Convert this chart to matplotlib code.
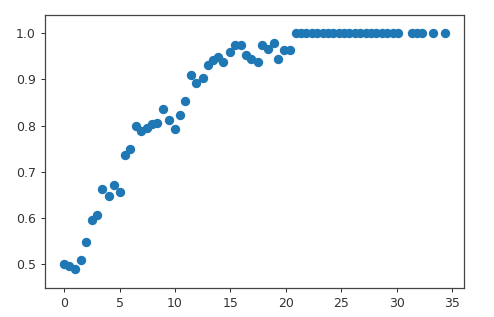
import matplotlib
matplotlib.use("Agg")
import matplotlib.pyplot as plt

x_rise = [0.0, 0.45, 0.97, 1.5, 2.02, 2.53, 3.01, 3.43, 4.03, 4.48, 5.02, 5.47, 5.93,
          6.47, 6.92, 7.48, 7.96, 8.41, 8.96, 9.44, 9.98, 10.43, 10.88, 11.40, 11.88,
          12.48, 12.96, 13.44, 13.92, 14.34, 14.94, 15.39, 15.93, 16.41, 16.84, 17.44,
          17.85, 18.40, 18.91, 19.33, 19.87, 20.38]
y_rise = [0.500, 0.495, 0.489, 0.509, 0.547, 0.596, 0.607, 0.662, 0.647, 0.672, 0.655,
          0.736, 0.750, 0.799, 0.788, 0.794, 0.804, 0.806, 0.836, 0.812, 0.793, 0.823,
          0.853, 0.910, 0.892, 0.904, 0.931, 0.942, 0.949, 0.938, 0.959, 0.975, 0.975,
          0.954, 0.944, 0.937, 0.975, 0.966, 0.978, 0.945, 0.964, 0.964]
x_plateau = [20.87, 21.36, 21.84, 22.33, 22.81, 23.30, 23.78, 24.27, 24.76, 25.24,
             25.73, 26.21, 26.70, 27.18, 27.67, 28.15, 28.64, 29.13, 29.61, 30.10,
             31.38, 31.83, 32.27, 33.27, 34.33]
y_plateau = [1.0] * len(x_plateau)

x = x_rise + x_plateau
y = y_rise + y_plateau

fig = plt.figure(figsize=(4.94, 3.17), dpi=100)
ax = fig.add_axes([45/494, 1-287.7/317, (464.3-45)/494, (287.7-14.7)/317])
ax.scatter(x, y, s=29, color="#1f77b4", linewidths=1.35, edgecolors="face")
ax.set_xlim(-1.72, 36.08)
ax.set_ylim(0.4486, 1.0403)
ax.set_xticks([0, 5, 10, 15, 20, 25, 30, 35])
ax.set_yticks([0.5, 0.6, 0.7, 0.8, 0.9, 1.0])
ax.tick_params(labelsize=9, length=3.2, width=0.72, colors="#333333", labelcolor="#333333")
for sp in ax.spines.values():
    sp.set_linewidth(0.9)
    sp.set_color("#444444")
fig.savefig("out.png", dpi=100)
